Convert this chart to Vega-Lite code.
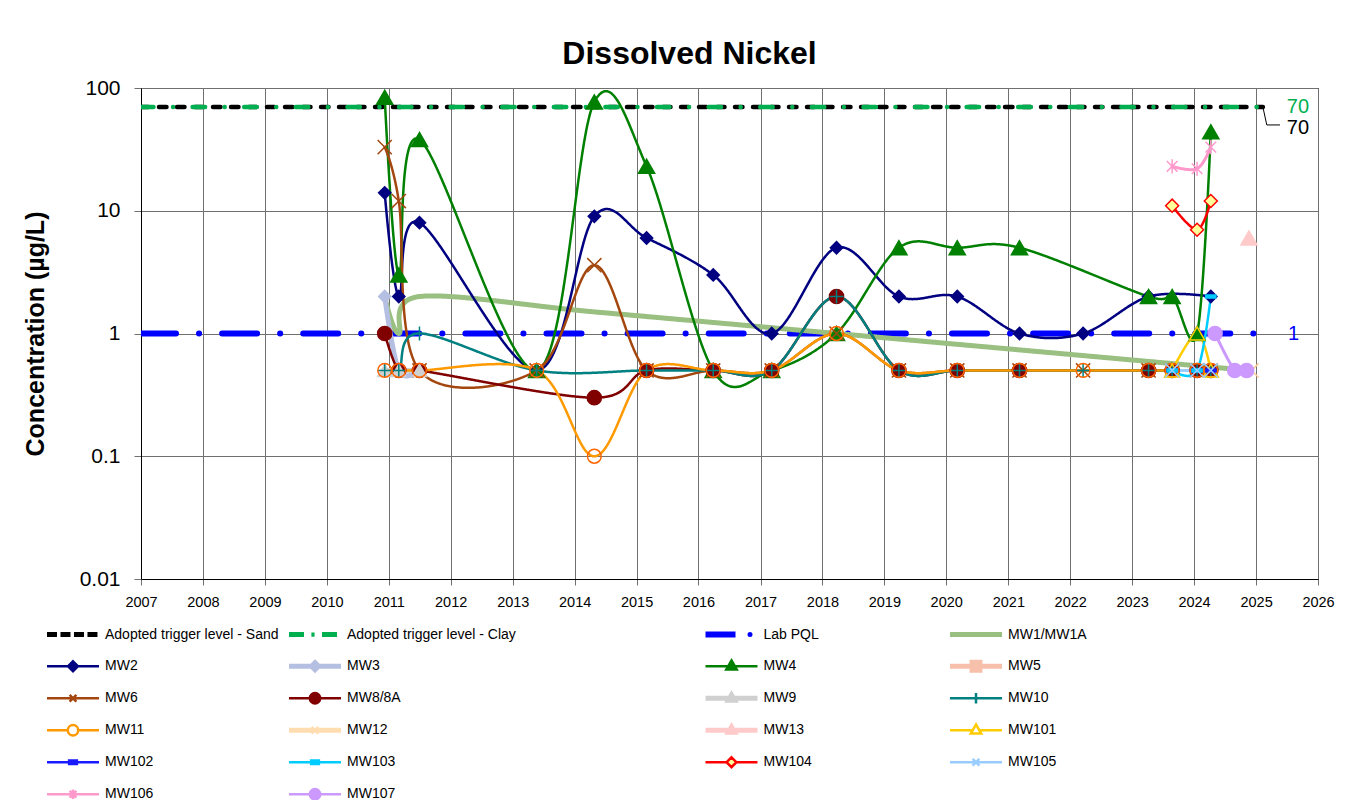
{
  "$schema": "https://vega.github.io/schema/vega-lite/v6.json",
  "width": 1177,
  "height": 491,
  "autosize": {"type": "none"},
  "padding": {"left": 141, "top": 88, "right": 53, "bottom": 221},
  "background": "white",
  "title": {"text": "Dissolved Nickel", "font": "Liberation Sans", "fontSize": 32, "fontWeight": "bold", "color": "black", "anchor": "middle", "dx": -40, "offset": -19, "baseline": "alphabetic"},
  "datasets": {
    "obs": [
      {"series": "Adopted trigger level - Sand", "date": "2007-01-01", "value": 70},
      {"series": "Adopted trigger level - Sand", "date": "2025-02-10", "value": 70},
      {"series": "Adopted trigger level - Clay", "date": "2007-01-01", "value": 70},
      {"series": "Adopted trigger level - Clay", "date": "2025-02-10", "value": 70},
      {"series": "Lab PQL", "date": "2007-01-01", "value": 1},
      {"series": "Lab PQL", "date": "2025-01-25", "value": 1},
      {"series": "MW1/MW1A", "date": "2010-12-08", "value": 2},
      {"series": "MW1/MW1A", "date": "2011-03-01", "value": 1},
      {"series": "MW1/MW1A", "date": "2011-07-01", "value": 2},
      {"series": "MW1/MW1A", "date": "2014-04-27", "value": 1.5},
      {"series": "MW1/MW1A", "date": "2018-03-25", "value": 1},
      {"series": "MW1/MW1A", "date": "2024-11-20", "value": 0.5},
      {"series": "MW2", "date": "2010-12-08", "value": 14},
      {"series": "MW2", "date": "2011-03-01", "value": 2},
      {"series": "MW2", "date": "2011-07-01", "value": 8},
      {"series": "MW2", "date": "2013-05-22", "value": 0.5},
      {"series": "MW2", "date": "2014-04-27", "value": 9},
      {"series": "MW2", "date": "2015-03-01", "value": 6},
      {"series": "MW2", "date": "2016-03-28", "value": 3},
      {"series": "MW2", "date": "2017-03-08", "value": 1},
      {"series": "MW2", "date": "2018-03-25", "value": 5},
      {"series": "MW2", "date": "2019-03-28", "value": 2},
      {"series": "MW2", "date": "2020-03-06", "value": 2},
      {"series": "MW2", "date": "2021-03-08", "value": 1},
      {"series": "MW2", "date": "2022-03-18", "value": 1},
      {"series": "MW2", "date": "2023-04-08", "value": 2},
      {"series": "MW2", "date": "2024-04-09", "value": 2},
      {"series": "MW3", "date": "2010-12-08", "value": 2},
      {"series": "MW3", "date": "2011-03-01", "value": 0.5},
      {"series": "MW3", "date": "2011-07-01", "value": 0.5},
      {"series": "MW4", "date": "2010-12-08", "value": 84},
      {"series": "MW4", "date": "2011-03-01", "value": 3},
      {"series": "MW4", "date": "2011-07-01", "value": 38},
      {"series": "MW4", "date": "2013-05-22", "value": 0.5},
      {"series": "MW4", "date": "2014-04-27", "value": 77},
      {"series": "MW4", "date": "2015-03-01", "value": 23},
      {"series": "MW4", "date": "2016-03-28", "value": 0.5},
      {"series": "MW4", "date": "2017-03-08", "value": 0.5},
      {"series": "MW4", "date": "2018-03-25", "value": 1},
      {"series": "MW4", "date": "2019-03-28", "value": 5},
      {"series": "MW4", "date": "2020-03-06", "value": 5},
      {"series": "MW4", "date": "2021-03-08", "value": 5},
      {"series": "MW4", "date": "2023-04-08", "value": 2},
      {"series": "MW4", "date": "2023-08-25", "value": 2},
      {"series": "MW4", "date": "2024-01-19", "value": 1},
      {"series": "MW4", "date": "2024-04-09", "value": 44},
      {"series": "MW6", "date": "2010-12-08", "value": 33},
      {"series": "MW6", "date": "2011-03-01", "value": 12},
      {"series": "MW6", "date": "2011-07-01", "value": 0.5},
      {"series": "MW6", "date": "2013-05-22", "value": 0.5},
      {"series": "MW6", "date": "2014-04-27", "value": 3.6},
      {"series": "MW6", "date": "2015-03-01", "value": 0.5},
      {"series": "MW6", "date": "2016-03-28", "value": 0.5},
      {"series": "MW6", "date": "2017-03-08", "value": 0.5},
      {"series": "MW6", "date": "2018-03-25", "value": 1},
      {"series": "MW6", "date": "2019-03-28", "value": 0.5},
      {"series": "MW6", "date": "2020-03-06", "value": 0.5},
      {"series": "MW6", "date": "2021-03-08", "value": 0.5},
      {"series": "MW6", "date": "2022-03-18", "value": 0.5},
      {"series": "MW6", "date": "2023-04-08", "value": 0.5},
      {"series": "MW6", "date": "2023-08-25", "value": 0.5},
      {"series": "MW6", "date": "2024-01-19", "value": 0.5},
      {"series": "MW6", "date": "2024-04-09", "value": 0.5},
      {"series": "MW8/8A", "date": "2010-12-08", "value": 1},
      {"series": "MW8/8A", "date": "2011-03-01", "value": 0.5},
      {"series": "MW8/8A", "date": "2011-07-01", "value": 0.5},
      {"series": "MW8/8A", "date": "2014-04-27", "value": 0.3},
      {"series": "MW8/8A", "date": "2015-03-01", "value": 0.5},
      {"series": "MW8/8A", "date": "2016-03-28", "value": 0.5},
      {"series": "MW8/8A", "date": "2017-03-08", "value": 0.5},
      {"series": "MW8/8A", "date": "2018-03-25", "value": 2},
      {"series": "MW8/8A", "date": "2019-03-28", "value": 0.5},
      {"series": "MW8/8A", "date": "2020-03-06", "value": 0.5},
      {"series": "MW8/8A", "date": "2021-03-08", "value": 0.5},
      {"series": "MW8/8A", "date": "2023-04-08", "value": 0.5},
      {"series": "MW8/8A", "date": "2023-08-25", "value": 0.5},
      {"series": "MW8/8A", "date": "2024-01-19", "value": 0.5},
      {"series": "MW8/8A", "date": "2024-04-09", "value": 0.5},
      {"series": "MW9", "date": "2010-12-08", "value": 0.5},
      {"series": "MW9", "date": "2011-03-01", "value": 0.5},
      {"series": "MW9", "date": "2011-07-01", "value": 0.5},
      {"series": "MW10", "date": "2010-12-08", "value": 0.5},
      {"series": "MW10", "date": "2011-03-01", "value": 0.5},
      {"series": "MW10", "date": "2011-07-01", "value": 1},
      {"series": "MW10", "date": "2013-05-22", "value": 0.5},
      {"series": "MW10", "date": "2015-03-01", "value": 0.5},
      {"series": "MW10", "date": "2016-03-28", "value": 0.5},
      {"series": "MW10", "date": "2017-03-08", "value": 0.5},
      {"series": "MW10", "date": "2018-03-25", "value": 2},
      {"series": "MW10", "date": "2019-03-28", "value": 0.5},
      {"series": "MW10", "date": "2020-03-06", "value": 0.5},
      {"series": "MW10", "date": "2021-03-08", "value": 0.5},
      {"series": "MW10", "date": "2022-03-18", "value": 0.5},
      {"series": "MW10", "date": "2023-04-08", "value": 0.5},
      {"series": "MW10", "date": "2023-08-25", "value": 0.5},
      {"series": "MW10", "date": "2024-01-19", "value": 0.5},
      {"series": "MW10", "date": "2024-04-09", "value": 0.5},
      {"series": "MW11", "date": "2010-12-08", "value": 0.5},
      {"series": "MW11", "date": "2011-03-01", "value": 0.5},
      {"series": "MW11", "date": "2011-07-01", "value": 0.5},
      {"series": "MW11", "date": "2013-05-22", "value": 0.5},
      {"series": "MW11", "date": "2014-04-27", "value": 0.1},
      {"series": "MW11", "date": "2015-03-01", "value": 0.5},
      {"series": "MW11", "date": "2016-03-28", "value": 0.5},
      {"series": "MW11", "date": "2017-03-08", "value": 0.5},
      {"series": "MW11", "date": "2018-03-25", "value": 1},
      {"series": "MW11", "date": "2019-03-28", "value": 0.5},
      {"series": "MW11", "date": "2020-03-06", "value": 0.5},
      {"series": "MW11", "date": "2021-03-08", "value": 0.5},
      {"series": "MW11", "date": "2022-03-18", "value": 0.5},
      {"series": "MW11", "date": "2023-04-08", "value": 0.5},
      {"series": "MW11", "date": "2023-08-25", "value": 0.5},
      {"series": "MW11", "date": "2024-01-19", "value": 0.5},
      {"series": "MW11", "date": "2024-04-09", "value": 0.5},
      {"series": "MW12", "date": "2024-12-05", "value": 0.5},
      {"series": "MW13", "date": "2024-11-20", "value": 6},
      {"series": "MW101", "date": "2023-08-25", "value": 0.5},
      {"series": "MW101", "date": "2024-01-19", "value": 1},
      {"series": "MW101", "date": "2024-04-09", "value": 0.5},
      {"series": "MW102", "date": "2023-08-25", "value": 0.5},
      {"series": "MW102", "date": "2024-01-19", "value": 0.5},
      {"series": "MW102", "date": "2024-04-09", "value": 0.5},
      {"series": "MW103", "date": "2023-08-25", "value": 0.5},
      {"series": "MW103", "date": "2024-01-19", "value": 0.5},
      {"series": "MW103", "date": "2024-04-09", "value": 2},
      {"series": "MW104", "date": "2023-08-25", "value": 11},
      {"series": "MW104", "date": "2024-01-19", "value": 7},
      {"series": "MW104", "date": "2024-04-09", "value": 12},
      {"series": "MW105", "date": "2023-08-25", "value": 0.5},
      {"series": "MW105", "date": "2024-01-19", "value": 0.5},
      {"series": "MW105", "date": "2024-04-09", "value": 0.5},
      {"series": "MW106", "date": "2023-08-25", "value": 23},
      {"series": "MW106", "date": "2024-01-19", "value": 22},
      {"series": "MW106", "date": "2024-04-09", "value": 33},
      {"series": "MW107", "date": "2024-05-04", "value": 1},
      {"series": "MW107", "date": "2024-08-28", "value": 0.5},
      {"series": "MW107", "date": "2024-11-06", "value": 0.5}
    ],
    "labels": [
      {"kind": "Clay", "label": "70", "date": "2025-07-01", "value": 70},
      {"kind": "Sand", "label": "70", "date": "2025-07-01", "value": 70},
      {"kind": "PQL", "label": "1", "date": "2025-08-10", "value": 1}
    ],
    "leader": [
      {"date": "2025-02-10", "value": 70},
      {"date": "2025-03-05", "value": 50},
      {"date": "2025-05-22", "value": 50}
    ]
  },
  "encoding": {
    "x": {"field": "date", "type": "temporal",
      "scale": {"type": "utc", "domain": ["2007-01-01", "2026-01-01"]},
      "axis": {"title": null, "format": "%Y", "tickCount": {"interval": "year", "step": 1}, "labelFont": "Liberation Sans", "labelFontSize": 14.5, "labelColor": "black", "labelPadding": 10, "tickSize": 6, "labelFlush": false, "labelOverlap": false, "grid": true}},
    "y": {"field": "value", "type": "quantitative",
      "scale": {"type": "log", "domain": [0.01, 100]},
      "axis": {"title": "Concentration (µg/L)", "values": [0.01, 0.1, 1, 10, 100], "format": "~g", "labelFont": "Liberation Sans", "labelFontSize": 21, "labelColor": "black", "labelPadding": 14, "tickSize": 7, "grid": true, "titleFont": "Liberation Sans", "titleFontSize": 25, "titleFontWeight": "bold", "titleColor": "black", "titleX": -106, "titleY": 245.5, "titleAngle": -90, "titleAlign": "center", "titleBaseline": "middle"}}
  },
  "layer": [
    {
      "data": {"name": "obs"},
      "mark": {"type": "line", "interpolate": "cardinal", "strokeCap": "round", "strokeJoin": "round", "clip": true},
      "encoding": {
        "stroke": {"field": "series", "type": "nominal", "legend": null,
          "scale": {"domain": ["Adopted trigger level - Sand","Adopted trigger level - Clay","Lab PQL","MW1/MW1A","MW2","MW3","MW4","MW5","MW6","MW8/8A","MW9","MW10","MW11","MW12","MW13","MW101","MW102","MW103","MW104","MW105","MW106","MW107"],
            "range": ["#000000","#00B050","#0000FF","#99C080","#000080","#B4BFE2","#008000","#F6C0AA","#A4470F","#800000","#D0D0D0","#008080","#FF9900","#FFDDB0","#FFCACA","#FFCC00","#1A1AFF","#00CCFF","#FF0000","#99CCFF","#FF99CC","#CC99FF"]}},
        "strokeWidth": {"field": "series", "type": "nominal", "legend": null,
          "scale": {"type": "ordinal", "domain": ["Adopted trigger level - Sand","Adopted trigger level - Clay","Lab PQL","MW1/MW1A","MW2","MW3","MW4","MW5","MW6","MW8/8A","MW9","MW10","MW11","MW12","MW13","MW101","MW102","MW103","MW104","MW105","MW106","MW107"],
            "range": [4.5,4.5,6,5,2.5,5,2.5,5,2.5,2.5,5,2.5,2.5,5,5,2.5,2.5,2.5,2.5,3,3,3]}},
        "strokeDash": {"field": "series", "type": "nominal", "legend": null,
          "scale": {"domain": ["Adopted trigger level - Sand","Adopted trigger level - Clay","Lab PQL","MW1/MW1A","MW2","MW3","MW4","MW5","MW6","MW8/8A","MW9","MW10","MW11","MW12","MW13","MW101","MW102","MW103","MW104","MW105","MW106","MW107"],
            "range": [[7.5,10.5],[12.5,19.5,0.1,19.5],[35,23,0.1,23],[1,0],[1,0],[1,0],[1,0],[1,0],[1,0],[1,0],[1,0],[1,0],[1,0],[1,0],[1,0],[1,0],[1,0],[1,0],[1,0],[1,0],[1,0],[1,0]]}}
      }
    },
    {
      "data": {"name": "obs"},
      "transform": [{"filter": {"field": "series", "oneOf": ["MW2","MW3","MW4","MW5","MW6","MW8/8A","MW9","MW10","MW11","MW12","MW13","MW101","MW102","MW103","MW104","MW105","MW106","MW107"]}}],
      "mark": {"type": "point", "filled": true, "opacity": 1, "strokeWidth": 1.5},
      "encoding": {
        "shape": {"field": "series", "type": "nominal", "legend": null,
          "scale": {"domain": ["MW2","MW3","MW4","MW5","MW6","MW8/8A","MW9","MW10","MW11","MW12","MW13","MW101","MW102","MW103","MW104","MW105","MW106","MW107"],
            "range": ["diamond","diamond","triangle-up","square","M-1,-1L1,1M-1,1L1,-1","circle","triangle-up","M-1,0L1,0M0,-1L0,1","circle","M-1,-1L1,1M-1,1L1,-1","triangle-up","triangle-up","M-1,-0.3H1V0.3H-1Z","M-1,-0.3H1V0.3H-1Z","diamond","M-1,-1L1,1M-1,1L1,-1","M-0.75,-0.75L0.75,0.75M-0.75,0.75L0.75,-0.75M0,-1L0,1","circle"]}},
        "fill": {"field": "series", "type": "nominal", "legend": null,
          "scale": {"domain": ["MW2","MW3","MW4","MW5","MW6","MW8/8A","MW9","MW10","MW11","MW12","MW13","MW101","MW102","MW103","MW104","MW105","MW106","MW107"],
            "range": ["#000080","#B4BFE2","#008000","#F6C0AA","transparent","#800000","#D0D0D0","transparent","transparent","transparent","#FFCACA","transparent","#1A1AFF","#00CCFF","#FFFF99","transparent","transparent","#CC99FF"]}},
        "stroke": {"field": "series", "type": "nominal", "legend": null,
          "scale": {"domain": ["MW2","MW3","MW4","MW5","MW6","MW8/8A","MW9","MW10","MW11","MW12","MW13","MW101","MW102","MW103","MW104","MW105","MW106","MW107"],
            "range": ["#000080","#B4BFE2","#008000","#F6C0AA","#A4470F","#800000","#D0D0D0","#008080","#FF6600","#FFCC99","#FFCACA","#FFCC00","#1A1AFF","#00CCFF","#FF0000","#99CCFF","#FF99CC","#CC99FF"]}},
        "size": {"field": "series", "type": "nominal", "legend": null,
          "scale": {"type": "ordinal", "domain": ["MW2","MW3","MW4","MW5","MW6","MW8/8A","MW9","MW10","MW11","MW12","MW13","MW101","MW102","MW103","MW104","MW105","MW106","MW107"],
            "range": [150,150,260,110,200,200,200,200,190,200,260,230,100,100,170,200,200,200]}}
      }
    },
    {
      "data": {"name": "obs"},
      "transform": [{"filter": "false"}],
      "mark": {"type": "point", "filled": true, "opacity": 1},
      "encoding": {
        "shape": {"field": "series", "type": "nominal",
          "legend": {"orient": "none", "legendX": -94, "legendY": 539.2, "columns": 2, "columnPadding": 5, "rowPadding": 0, "symbolSize": 100, "symbolOffset": 19, "symbolStrokeWidth": 2.5, "labelFont": "Liberation Sans", "labelFontSize": 14, "labelColor": "black", "labelOffset": 25, "title": null, "padding": 0, "gridAlign": "each", "labelLimit": 400, "symbolOpacity": 1},
          "scale": {"domain": ["Adopted trigger level - Sand","MW2","MW6","MW11","MW102","MW106","Adopted trigger level - Clay","MW3","MW8/8A","MW12","MW103","MW107"],
            "range": [
              "M-4.95,-0.25H-3.453V0.25H-4.95ZM-2.252,-0.25H-0.754V0.25H-2.252ZM0.447,-0.25H1.945V0.25H0.447ZM3.146,-0.25H4.644V0.25H3.146ZM0,-2.04L0.001,-2.04M0,2.04L0.001,2.04",
              "M-5.2,0H5.2M0,-0.988L0.988,0L0,0.988L-0.988,0ZM0,-2.04L0.001,-2.04M0,2.04L0.001,2.04",
              "M-5.2,0H5.2M-0.676,-0.676L0.676,0.676M-0.676,0.676L0.676,-0.676M0,-2.04L0.001,-2.04M0,2.04L0.001,2.04",
              "M-5.2,0H-1.04M1.04,0H5.2M1.04,0A1.04,1.04,0,1,1,-1.04,0A1.04,1.04,0,1,1,1.04,0ZM0,-2.04L0.001,-2.04M0,2.04L0.001,2.04",
              "M-5.2,0H5.2M-0.78,-0.364H0.78V0.364H-0.78ZM0,-2.04L0.001,-2.04M0,2.04L0.001,2.04",
              "M-5.2,0H5.2M-0.676,-0.676L0.676,0.676M-0.676,0.676L0.676,-0.676M0,-0.936V0.936M0,-2.04L0.001,-2.04M0,2.04L0.001,2.04",
              "M-4.95,-0.25H-2.449V0.25H-4.95ZM-0.468,-0.156H-0.338V0.156H-0.468ZM1.648,-0.25H4.15V0.25H1.648ZM0,-2.04L0.001,-2.04M0,2.04L0.001,2.04",
              "M-4.95,-0.25H4.95V0.25H-4.95ZM0,-1.04L1.04,0L0,1.04L-1.04,0ZM0,-2.04L0.001,-2.04M0,2.04L0.001,2.04",
              "M-5.2,0H5.2M1.04,0A1.04,1.04,0,1,1,-1.04,0A1.04,1.04,0,1,1,1.04,0ZM0,-2.04L0.001,-2.04M0,2.04L0.001,2.04",
              "M-4.95,-0.25H4.95V0.25H-4.95ZM-0.676,-0.676L0.676,0.676M-0.676,0.676L0.676,-0.676M0,-2.04L0.001,-2.04M0,2.04L0.001,2.04",
              "M-5.2,0H5.2M-0.78,-0.364H0.78V0.364H-0.78ZM0,-2.04L0.001,-2.04M0,2.04L0.001,2.04",
              "M-5.2,0H5.2M1.04,0A1.04,1.04,0,1,1,-1.04,0A1.04,1.04,0,1,1,1.04,0ZM0,-2.04L0.001,-2.04M0,2.04L0.001,2.04"]}},
        "stroke": {"field": "series", "type": "nominal",
          "legend": {"orient": "none", "legendX": -94, "legendY": 539.2, "columns": 2, "columnPadding": 5, "rowPadding": 0, "symbolSize": 100, "symbolOffset": 19, "symbolStrokeWidth": 2.5, "labelFont": "Liberation Sans", "labelFontSize": 14, "labelColor": "black", "labelOffset": 25, "title": null, "padding": 0, "gridAlign": "each", "labelLimit": 400, "symbolOpacity": 1},
          "scale": {"domain": ["Adopted trigger level - Sand","MW2","MW6","MW11","MW102","MW106","Adopted trigger level - Clay","MW3","MW8/8A","MW12","MW103","MW107"],
            "range": ["#000000","#000080","#A4470F","#FF9900","#1A1AFF","#FF99CC","#00B050","#B4BFE2","#800000","#FFDDB0","#00CCFF","#CC99FF"]}},
        "fill": {"field": "series", "type": "nominal",
          "legend": {"orient": "none", "legendX": -94, "legendY": 539.2, "columns": 2, "columnPadding": 5, "rowPadding": 0, "symbolSize": 100, "symbolOffset": 19, "symbolStrokeWidth": 2.5, "labelFont": "Liberation Sans", "labelFontSize": 14, "labelColor": "black", "labelOffset": 25, "title": null, "padding": 0, "gridAlign": "each", "labelLimit": 400, "symbolOpacity": 1},
          "scale": {"domain": ["Adopted trigger level - Sand","MW2","MW6","MW11","MW102","MW106","Adopted trigger level - Clay","MW3","MW8/8A","MW12","MW103","MW107"],
            "range": ["#000000","#000080","transparent","white","#1A1AFF","transparent","#00B050","#B4BFE2","#800000","#FFDDB0","#00CCFF","#CC99FF"]}}
      }
    },
    {
      "data": {"name": "obs"},
      "transform": [{"filter": "false"}],
      "mark": {"type": "point", "filled": true, "opacity": 1},
      "encoding": {
        "shape": {"field": "series", "type": "nominal",
          "legend": {"orient": "none", "legendX": 564.5, "legendY": 539.2, "columns": 2, "columnPadding": 125.5, "rowPadding": 0, "symbolSize": 100, "symbolOffset": 19, "symbolStrokeWidth": 2.5, "labelFont": "Liberation Sans", "labelFontSize": 14, "labelColor": "black", "labelOffset": 25, "title": null, "padding": 0, "gridAlign": "each", "labelLimit": 400, "symbolOpacity": 1},
          "scale": {"domain": ["Lab PQL","MW4","MW9","MW13","MW104","MW1/MW1A","MW5","MW10","MW101","MW105"],
            "range": [
              "M-4.95,-0.348H0.551V0.348H-4.95ZM3.952,0A0.25,0.25,0,1,1,3.452,0A0.25,0.25,0,1,1,3.952,0ZM0,-2.04L0.001,-2.04M0,2.04L0.001,2.04",
              "M-5.2,0H5.2M0,-1.144L1.04,0.676L-1.04,0.676ZM0,-2.04L0.001,-2.04M0,2.04L0.001,2.04",
              "M-4.95,-0.25H4.95V0.25H-4.95ZM0,-1.144L1.04,0.676L-1.04,0.676ZM0,-2.04L0.001,-2.04M0,2.04L0.001,2.04",
              "M-4.95,-0.25H4.95V0.25H-4.95ZM0,-1.144L1.04,0.676L-1.04,0.676ZM0,-2.04L0.001,-2.04M0,2.04L0.001,2.04",
              "M-5.2,0H-0.988M0.988,0H5.2M0,-0.988L0.988,0L0,0.988L-0.988,0ZM0,-2.04L0.001,-2.04M0,2.04L0.001,2.04",
              "M-4.95,-0.25H4.95V0.25H-4.95ZM0,-2.04L0.001,-2.04M0,2.04L0.001,2.04",
              "M-4.95,-0.25H4.95V0.25H-4.95ZM-1.04,-1.04H1.04V1.04H-1.04ZM0,-2.04L0.001,-2.04M0,2.04L0.001,2.04",
              "M-5.2,0H5.2M0,-1.04V1.04M0,-2.04L0.001,-2.04M0,2.04L0.001,2.04",
              "M-5.2,0H-0.676M0.676,0H5.2M0,-1.144L1.04,0.676L-1.04,0.676ZM0,-2.04L0.001,-2.04M0,2.04L0.001,2.04",
              "M-5.2,0H5.2M-0.676,-0.676L0.676,0.676M-0.676,0.676L0.676,-0.676M0,-2.04L0.001,-2.04M0,2.04L0.001,2.04"]}},
        "stroke": {"field": "series", "type": "nominal",
          "legend": {"orient": "none", "legendX": 564.5, "legendY": 539.2, "columns": 2, "columnPadding": 125.5, "rowPadding": 0, "symbolSize": 100, "symbolOffset": 19, "symbolStrokeWidth": 2.5, "labelFont": "Liberation Sans", "labelFontSize": 14, "labelColor": "black", "labelOffset": 25, "title": null, "padding": 0, "gridAlign": "each", "labelLimit": 400, "symbolOpacity": 1},
          "scale": {"domain": ["Lab PQL","MW4","MW9","MW13","MW104","MW1/MW1A","MW5","MW10","MW101","MW105"],
            "range": ["#0000FF","#008000","#D0D0D0","#FFCACA","#FF0000","#99C080","#F6C0AA","#008080","#FFCC00","#99CCFF"]}},
        "fill": {"field": "series", "type": "nominal",
          "legend": {"orient": "none", "legendX": 564.5, "legendY": 539.2, "columns": 2, "columnPadding": 125.5, "rowPadding": 0, "symbolSize": 100, "symbolOffset": 19, "symbolStrokeWidth": 2.5, "labelFont": "Liberation Sans", "labelFontSize": 14, "labelColor": "black", "labelOffset": 25, "title": null, "padding": 0, "gridAlign": "each", "labelLimit": 400, "symbolOpacity": 1},
          "scale": {"domain": ["Lab PQL","MW4","MW9","MW13","MW104","MW1/MW1A","MW5","MW10","MW101","MW105"],
            "range": ["#0000FF","#008000","#D0D0D0","#FFCACA","#FFFF99","#99C080","#F6C0AA","transparent","white","transparent"]}}
      }
    },
    {
      "data": {"name": "leader"},
      "mark": {"type": "line", "color": "black", "strokeWidth": 1, "interpolate": "linear"},
      "encoding": {}
    },
    {
      "data": {"name": "labels"},
      "transform": [{"filter": {"field": "kind", "equal": "Clay"}}],
      "mark": {"type": "text", "color": "#00B050", "align": "left", "baseline": "middle", "fontSize": 20, "font": "Liberation Sans"},
      "encoding": {"text": {"field": "label"}}
    },
    {
      "data": {"name": "labels"},
      "transform": [{"filter": {"field": "kind", "equal": "Sand"}}],
      "mark": {"type": "text", "color": "black", "align": "left", "baseline": "middle", "dy": 21, "fontSize": 20, "font": "Liberation Sans"},
      "encoding": {"text": {"field": "label"}}
    },
    {
      "data": {"name": "labels"},
      "transform": [{"filter": {"field": "kind", "equal": "PQL"}}],
      "mark": {"type": "text", "color": "#0000FF", "align": "center", "baseline": "middle", "fontSize": 20, "font": "Liberation Sans"},
      "encoding": {"text": {"field": "label"}}
    }
  ],
  "resolve": {"scale": {"stroke": "independent", "fill": "independent", "shape": "independent", "size": "independent", "strokeWidth": "independent", "strokeDash": "independent"}},
  "config": {
    "font": "Liberation Sans",
    "view": {"stroke": "black", "strokeWidth": 1},
    "axis": {"gridColor": "#707070", "gridWidth": 1, "domainColor": "black", "tickColor": "#707070", "labelColor": "black"},
    "legend": {"symbolOpacity": 1}
  }
}
